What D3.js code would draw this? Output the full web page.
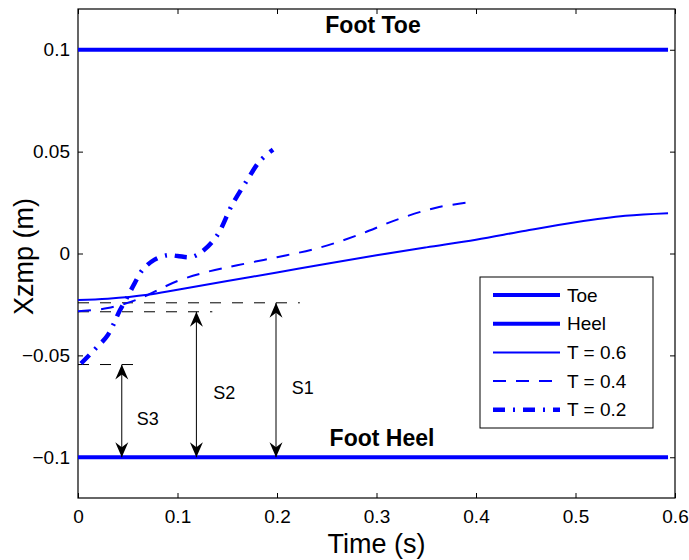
<!DOCTYPE html>
<html>
<head>
<meta charset="utf-8">
<script src="https://cdn.jsdelivr.net/npm/d3@7"></script>
<style>
  body { margin: 0; background: #fff; }
  text { font-family: "Liberation Sans", Arial, Helvetica, sans-serif; }
</style>
</head>
<body>
<svg id="chart" width="689" height="560"></svg>
<script>
// foot limits
const footT = [0, 0.593];
const toeLevel = 0.1;
const heelLevel = -0.1;

// ZMP trajectories for the three step periods
const t06 = [0, 0.03, 0.07, 0.1, 0.15, 0.2, 0.25, 0.3, 0.35, 0.4, 0.45, 0.5, 0.55, 0.593];
const z06 = [-0.0228, -0.0222, -0.0203, -0.0178, -0.0135, -0.0093, -0.005, -0.0009, 0.003, 0.0068, 0.0112, 0.0153, 0.0185, 0.0198];

const t04 = [0, 0.03, 0.06, 0.1, 0.13, 0.16, 0.2, 0.24, 0.28, 0.32, 0.36, 0.395];
const z04 = [-0.0283, -0.0268, -0.0225, -0.0135, -0.009, -0.0058, -0.0018, 0.0025, 0.0088, 0.0165, 0.0225, 0.0252];

const t02 = [0.003, 0.017, 0.03, 0.042, 0.05, 0.057, 0.065, 0.077, 0.09, 0.1, 0.114, 0.126, 0.14, 0.155, 0.17, 0.183, 0.196];
const z02 = [-0.054, -0.047, -0.04, -0.028, -0.021, -0.0145, -0.008, -0.003, -0.0008, -0.0012, -0.0017, 0.0015, 0.009, 0.024, 0.036, 0.0455, 0.051];

// step length annotations
const sNames = ["S1", "S2", "S3"];
const sT = [0.199, 0.119, 0.044];
const sLevel = [-0.0242, -0.0286, -0.0545];
const sGuideEnd = [0.223, 0.135, 0.062];
const sLabelT = [0.226, 0.147, 0.070];
const sLabelZ = [-0.066, -0.0685, -0.0812];

const xTicks = [0, 0.1, 0.2, 0.3, 0.4, 0.5, 0.6];
const yTicks = [-0.1, -0.05, 0, 0.05, 0.1];
const legendNames = ["Toe", "Heel", "T = 0.6", "T = 0.4", "T = 0.2"];

const svg = d3.select("#chart");
const margin = {top: 9, right: 14, bottom: 62, left: 78},
      width = +svg.attr("width") - margin.left - margin.right,
      height = +svg.attr("height") - margin.top - margin.bottom;

const x = d3.scaleLinear().domain([0, 0.6]).range([0, width]);
const y = d3.scaleLinear().domain([-0.12, 0.12]).range([height, 0]);

const g = svg.append("g").attr("transform", "translate(" + margin.left + "," + margin.top + ")");

const blue = "#0000ff";
const styles = [
  {w: 4, dash: null},
  {w: 4, dash: null},
  {w: 2, dash: null},
  {w: 2, dash: "13,10"},
  {w: 4.5, dash: "12,8,2,8"}
];

// axes (ticks pointing inward, mirrored on top/right)
const fmt = d3.format("~g");
g.append("g")
    .attr("transform", "translate(0," + height + ")")
    .call(d3.axisBottom(x).tickValues(xTicks).tickFormat(fmt).tickSizeInner(-5).tickSizeOuter(0).tickPadding(12))
    .call(a => a.selectAll("text").style("font-size", "19px").attr("fill", "#000"));
g.append("g")
    .call(d3.axisTop(x).tickValues(xTicks).tickFormat("").tickSizeInner(-5).tickSizeOuter(0));
g.append("g")
    .call(d3.axisLeft(y).tickValues(yTicks).tickFormat(fmt).tickSizeInner(-5).tickSizeOuter(0).tickPadding(8))
    .call(a => a.selectAll("text").style("font-size", "19px").attr("fill", "#000"));
g.append("g")
    .attr("transform", "translate(" + width + ",0)")
    .call(d3.axisRight(y).tickValues(yTicks).tickFormat("").tickSizeInner(-5).tickSizeOuter(0));
g.selectAll(".domain").remove();
g.selectAll(".tick line").attr("stroke", "#000");

g.append("rect")
    .attr("width", width).attr("height", height)
    .attr("fill", "none").attr("stroke", "#000").attr("stroke-width", 1.2);

// arrow marker
const defs = svg.append("defs");
defs.append("marker")
    .attr("id", "head")
    .attr("markerUnits", "userSpaceOnUse")
    .attr("viewBox", "-16 -8 17 16")
    .attr("refX", 0).attr("refY", 0)
    .attr("markerWidth", 17).attr("markerHeight", 16)
    .attr("orient", "auto-start-reverse")
  .append("path")
    .attr("d", "M0,0 L-15,-6.5 L-10,0 L-15,6.5 Z")
    .attr("fill", "#000");

// foot lines
[toeLevel, heelLevel].forEach(lv => {
  g.append("line")
      .attr("x1", x(footT[0])).attr("x2", x(footT[1]))
      .attr("y1", y(lv)).attr("y2", y(lv))
      .attr("stroke", blue).attr("stroke-width", 4);
});

// guide lines and arrows
sNames.forEach((s, i) => {
  g.append("line")
      .attr("x1", x(0)).attr("x2", x(sGuideEnd[i]))
      .attr("y1", y(sLevel[i])).attr("y2", y(sLevel[i]))
      .attr("stroke", "#000").attr("stroke-width", 1).attr("stroke-dasharray", "11,11");
  g.append("line")
      .attr("x1", x(sT[i])).attr("x2", x(sT[i]))
      .attr("y1", y(sLevel[i])).attr("y2", y(heelLevel))
      .attr("stroke", "#000").attr("stroke-width", 1)
      .attr("marker-start", "url(#head)").attr("marker-end", "url(#head)");
  g.append("text")
      .attr("x", x(sLabelT[i])).attr("y", y(sLabelZ[i]))
      .attr("text-anchor", "middle").attr("dominant-baseline", "central")
      .style("font-size", "18px")
      .text(s);
});

// ZMP curves
const line = d3.line().curve(d3.curveCatmullRom).x(d => x(d[0])).y(d => y(d[1]));
[[t06, z06, 2], [t04, z04, 3], [t02, z02, 4]].forEach(([ts, zs, k]) => {
  g.append("path")
      .datum(ts.map((t, i) => [t, zs[i]]))
      .attr("d", line)
      .attr("fill", "none")
      .attr("stroke", blue)
      .attr("stroke-width", styles[k].w)
      .attr("stroke-dasharray", styles[k].dash);
});

// foot labels
g.append("text")
    .attr("x", x(0.2965)).attr("y", y(0.1082))
    .attr("text-anchor", "middle")
    .style("font-size", "23px").style("font-weight", "bold")
    .text("Foot Toe");
g.append("text")
    .attr("x", x(0.3055)).attr("y", y(-0.0945))
    .attr("text-anchor", "middle")
    .style("font-size", "23px").style("font-weight", "bold")
    .text("Foot Heel");

// axis titles
svg.append("text")
    .attr("x", margin.left + width / 2).attr("y", 553)
    .attr("text-anchor", "middle")
    .style("font-size", "27px")
    .text("Time (s)");
svg.append("text")
    .attr("transform", "translate(33," + (margin.top + y(0) + 3) + ") rotate(-90)")
    .attr("text-anchor", "middle")
    .style("font-size", "27px")
    .text("Xzmp (m)");

// legend
const lg = svg.append("g").attr("transform", "translate(480,277)");
lg.append("rect")
    .attr("width", 173).attr("height", 151)
    .attr("fill", "#fff").attr("stroke", "#000").attr("stroke-width", 1);
legendNames.forEach((name, i) => {
  const yy = 18 + i * 28.7;
  lg.append("line")
      .attr("x1", 13).attr("x2", 80)
      .attr("y1", yy).attr("y2", yy)
      .attr("stroke", blue)
      .attr("stroke-width", styles[i].w)
      .attr("stroke-dasharray", styles[i].dash);
  lg.append("text")
      .attr("x", 87).attr("y", yy)
      .attr("dominant-baseline", "central")
      .style("font-size", "19px")
      .text(name);
});
</script>
</body>
</html>
